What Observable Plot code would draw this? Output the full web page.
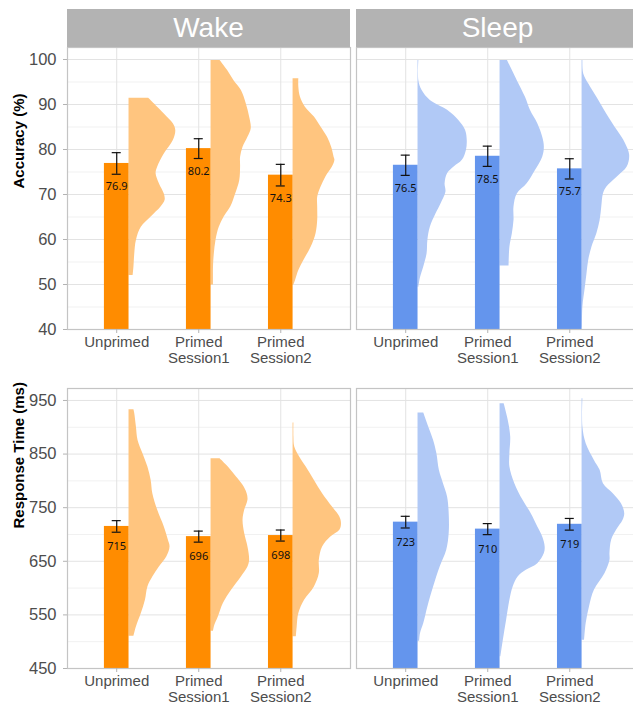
<!DOCTYPE html>
<html><head><meta charset="utf-8">
<script src="https://cdn.jsdelivr.net/npm/d3@7"></script>
<script src="https://cdn.jsdelivr.net/npm/@observablehq/plot@0.6"></script>
<style>
html,body{margin:0;padding:0;background:#fff;}
#chart{position:relative;width:633px;height:707px;overflow:hidden;font-family:"Liberation Sans",Arial,sans-serif;}
.strip{position:absolute;top:9px;height:38px;width:283px;background:#b3b3b3;color:#fff;font-size:28px;line-height:38px;text-align:center;z-index:2;}
.panel{position:absolute;}
.panel svg{background:transparent;max-width:none !important;}
</style></head><body><div id="chart"></div>
<script>
const conditions = ["Wake", "Sleep"];
const categories = ["Unprimed", "Primed\nSession1", "Primed\nSession2"];

const wakeAccMean = [76.9, 80.2, 74.3];
const wakeAccSE = [2.4, 2.2, 2.4];
const sleepAccMean = [76.5, 78.5, 75.7];
const sleepAccSE = [2.25, 2.25, 2.25];
const wakeRtMean = [715, 696, 698];
const wakeRtSE = [10.8, 10.3, 10.3];
const sleepRtMean = [723, 710, 719];
const sleepRtSE = [10.9, 10.3, 10.9];

const accTicks = [40, 50, 60, 70, 80, 90, 100];
const accMinor = [45, 55, 65, 75, 85, 95];
const rtTicks = [450, 550, 650, 750, 850, 950];
const rtMinor = [500, 600, 700, 800, 900];

// half-violin profiles: [value, width in category units]
const wakeAccUnprimed = [[91.4,0.24],[87.9,0.43],[85.7,0.54],[84.2,0.57],[82.0,0.54],[79.0,0.43],[76.1,0.35],[74.6,0.33],[72.4,0.37],[70.1,0.43],[68.7,0.44],[67.2,0.39],[65.0,0.27],[62.7,0.15],[59.8,0.09],[56.8,0.07],[53.9,0.06],[52.0,0.05]];
const wakeAccSession1 = [[99.8,0.11],[97.6,0.20],[95.3,0.28],[93.1,0.37],[90.1,0.43],[87.2,0.47],[84.6,0.49],[82.7,0.45],[80.5,0.39],[78.3,0.36],[76.1,0.36],[73.1,0.35],[70.1,0.30],[67.2,0.24],[65.0,0.16],[62.7,0.10],[59.8,0.06],[56.8,0.04],[53.9,0.03],[49.9,0.03]];
const wakeAccSession2 = [[95.7,0.07],[93.9,0.07],[91.6,0.09],[89.4,0.15],[87.2,0.26],[85.0,0.34],[82.7,0.42],[80.5,0.47],[78.3,0.50],[77.6,0.51],[76.1,0.48],[73.9,0.40],[71.6,0.34],[69.4,0.30],[67.2,0.30],[64.2,0.30],[61.3,0.28],[58.3,0.22],[55.3,0.13],[53.1,0.07],[50.9,0.03],[49.9,0.01]];
const sleepAccUnprimed = [[99.8,0.01],[95.3,0.01],[93.1,0.05],[90.9,0.15],[88.7,0.36],[86.4,0.50],[84.2,0.58],[82.0,0.60],[79.8,0.59],[77.6,0.54],[76.1,0.44],[74.6,0.36],[72.4,0.33],[70.5,0.34],[67.9,0.28],[65.7,0.22],[62.7,0.15],[59.8,0.12],[56.8,0.11],[53.9,0.07],[51.5,0.03],[49.4,0.01]];
const sleepAccSession1 = [[99.8,0.09],[95.3,0.21],[91.6,0.31],[88.7,0.37],[85.7,0.46],[82.7,0.52],[80.5,0.54],[78.3,0.52],[75.3,0.43],[72.4,0.33],[70.1,0.21],[67.2,0.17],[64.2,0.17],[61.3,0.15],[58.3,0.12],[54.1,0.11]];
const sleepAccSession2 = [[99.8,0.01],[96.8,0.02],[94.6,0.08],[91.6,0.18],[87.9,0.30],[84.2,0.43],[81.3,0.53],[78.7,0.58],[76.1,0.55],[73.9,0.43],[71.6,0.30],[70.1,0.26],[67.2,0.24],[64.2,0.22],[61.3,0.18],[58.3,0.12],[55.3,0.08],[52.4,0.06],[49.4,0.04],[45.0,0.01],[40.5,0.004]];
const wakeRtUnprimed = [[932.6,0.06],[925.2,0.07],[900.3,0.09],[875.5,0.11],[850.6,0.17],[825.8,0.23],[800.9,0.27],[776.1,0.29],[745.0,0.35],[714.0,0.43],[689.1,0.48],[676.7,0.50],[658.1,0.46],[639.4,0.37],[620.8,0.29],[602.2,0.23],[577.3,0.20],[552.5,0.15],[527.6,0.09],[510.3,0.06]];
const wakeRtSession1 = [[841.3,0.11],[825.8,0.21],[807.1,0.31],[791.6,0.39],[776.1,0.44],[763.7,0.45],[745.0,0.41],[726.4,0.39],[701.6,0.41],[676.7,0.45],[651.9,0.47],[639.4,0.45],[620.8,0.37],[595.9,0.25],[571.1,0.15],[546.3,0.09],[527.6,0.04],[519.6,0.03]];
const wakeRtSession2 = [[907.8,0.01],[881.7,0.01],[863.0,0.02],[844.4,0.08],[825.8,0.16],[800.9,0.26],[776.1,0.36],[751.2,0.48],[732.6,0.57],[720.2,0.59],[707.8,0.57],[695.3,0.46],[676.7,0.36],[651.9,0.32],[627.0,0.32],[602.2,0.26],[577.3,0.14],[552.5,0.07],[527.6,0.05],[509.0,0.04]];
const sleepRtUnprimed = [[926.4,0.07],[900.3,0.13],[875.5,0.19],[850.6,0.23],[819.6,0.26],[794.7,0.31],[769.9,0.36],[738.8,0.38],[701.6,0.38],[670.5,0.35],[639.4,0.27],[602.2,0.19],[564.9,0.12],[533.9,0.07],[515.0,0.03],[501.0,0.02]];
const sleepRtSession1 = [[943.8,0.05],[912.7,0.10],[881.7,0.13],[850.6,0.12],[825.8,0.12],[794.7,0.18],[763.7,0.28],[738.8,0.38],[714.0,0.46],[695.3,0.52],[676.7,0.55],[664.3,0.54],[645.6,0.46],[633.2,0.32],[620.8,0.22],[602.2,0.16],[577.3,0.12],[540.1,0.08],[502.8,0.04],[471.8,0.01]];
const sleepRtSession2 = [[953.1,0.01],[900.3,0.01],[869.3,0.05],[838.2,0.15],[819.6,0.22],[794.7,0.26],[776.1,0.38],[757.5,0.48],[738.8,0.52],[726.4,0.50],[707.8,0.42],[689.1,0.36],[664.3,0.34],[651.9,0.34],[627.0,0.28],[595.9,0.15],[564.9,0.09],[533.9,0.05],[502.7,0.03]];

const orange = "#FF8C00", orangeLight = "#FFC57F";
const blue = "#6495ED", blueLight = "#B1C9F6";

const chart = document.getElementById("chart");

function panel(o) {
  const rows = o.means.map((m, i) => ({pos: i + 1, mean: m, se: o.ses[i], label: o.fmt(m)}));
  const vpts = o.violins.flatMap((pts, i) => pts.map(([v, w]) => ({pos: i + 1, v, w, g: i})));
  const base = o.domain[0];
  const bw = 0.15;
  const marks = [
    Plot.ruleY(o.minor, {stroke: "#f1f1f1", strokeWidth: 1}),
    Plot.ruleY(o.ticks, {stroke: "#e3e3e3", strokeWidth: 1}),
    Plot.ruleX([1, 2, 3], {stroke: "#e3e3e3", strokeWidth: 1}),
    Plot.areaX(vpts, {y: "v", x1: d => d.pos + bw, x2: d => d.pos + bw + d.w, z: "g", fill: o.vcolor, curve: "catmull-rom"}),
    Plot.rectY(rows, {x1: d => d.pos - bw, x2: d => d.pos + bw, y1: base, y2: "mean", fill: o.color}),
    Plot.ruleX(rows, {x: "pos", y1: d => d.mean - d.se, y2: d => d.mean + d.se, stroke: "#111", strokeWidth: 1.2}),
    Plot.ruleY(rows, {y: d => d.mean + d.se, x1: d => d.pos - 0.055, x2: d => d.pos + 0.055, stroke: "#111", strokeWidth: 1.2}),
    Plot.ruleY(rows, {y: d => d.mean - d.se, x1: d => d.pos - 0.055, x2: d => d.pos + 0.055, stroke: "#111", strokeWidth: 1.2}),
    Plot.text(rows, {x: "pos", y: "mean", text: "label", dy: o.labelDy, fontSize: 11, fill: "#111", fontFamily: "'Noto Sans', sans-serif"}),
    Plot.frame({stroke: "#c4c4c4", strokeWidth: 1.2}),
    Plot.axisX([1, 2, 3], {tickFormat: i => categories[i - 1], tickSize: 4, tickPadding: 2, fontSize: 15, fill: "#4d4d4d", stroke: "#b3b3b3", lineHeight: 1.08, label: null})
  ];
  if (o.showY) {
    marks.push(Plot.axisY(o.ticks, {tickSize: 4, tickPadding: 7, fontSize: 16.5, fill: "#4d4d4d", stroke: "#b3b3b3", label: null}));
    marks.push(Plot.text([o.title], {frameAnchor: "left", rotate: -90, dx: -48, fontSize: 15, fontWeight: "bold", fill: "#000"}));
  }
  const svg = Plot.plot({
    width: o.width, height: o.height,
    marginLeft: o.mL, marginRight: o.mR, marginTop: o.mT, marginBottom: o.mB,
    x: {domain: [0.4, 3.85], label: null},
    y: {domain: o.domain, label: null, axis: o.showY ? undefined : null},
    style: {fontFamily: "'Liberation Sans', Arial, sans-serif", background: "transparent", overflow: "visible", maxWidth: "none"},
    marks
  });
  svg.style.maxWidth = "none";
  svg.style.width = o.width + "px";
  svg.style.height = o.height + "px";
  const div = document.createElement("div");
  div.className = "panel";
  div.style.left = o.left + "px";
  div.style.top = o.top + "px";
  div.style.width = o.width + "px";
  div.style.height = o.height + "px";
  div.appendChild(svg);
  chart.appendChild(div);
}

const fmtAcc = v => v.toFixed(1);
const fmtRt = v => String(Math.round(v));
const accDomain = [40, 102.67];
const rtDomain = [450, 972.3];

panel({means: wakeAccMean, ses: wakeAccSE, violins: [wakeAccUnprimed, wakeAccSession1, wakeAccSession2], color: orange, vcolor: orangeLight,
  domain: accDomain, ticks: accTicks, minor: accMinor, left: 0, top: 40, width: 352, height: 330, mL: 67, mR: 2, mT: 7, mB: 41,
  showY: true, title: "Accuracy (%)", labelDy: 23, fmt: fmtAcc});
panel({means: sleepAccMean, ses: sleepAccSE, violins: [sleepAccUnprimed, sleepAccSession1, sleepAccSession2], color: blue, vcolor: blueLight,
  domain: accDomain, ticks: accTicks, minor: accMinor, left: 352, top: 40, width: 290, height: 330, mL: 4, mR: 3, mT: 7, mB: 41,
  showY: false, title: "", labelDy: 23, fmt: fmtAcc});
panel({means: wakeRtMean, ses: wakeRtSE, violins: [wakeRtUnprimed, wakeRtSession1, wakeRtSession2], color: orange, vcolor: orangeLight,
  domain: rtDomain, ticks: rtTicks, minor: rtMinor, left: 0, top: 375, width: 352, height: 332, mL: 67, mR: 2, mT: 13, mB: 39,
  showY: true, title: "Response Time (ms)", labelDy: 20, fmt: fmtRt});
panel({means: sleepRtMean, ses: sleepRtSE, violins: [sleepRtUnprimed, sleepRtSession1, sleepRtSession2], color: blue, vcolor: blueLight,
  domain: rtDomain, ticks: rtTicks, minor: rtMinor, left: 352, top: 375, width: 290, height: 332, mL: 4, mR: 3, mT: 13, mB: 39,
  showY: false, title: "", labelDy: 20, fmt: fmtRt});

conditions.forEach((c, i) => {
  const s = document.createElement("div");
  s.className = "strip";
  s.style.left = (i === 0 ? 67 : 356) + "px";
  s.textContent = c;
  chart.appendChild(s);
});
</script></body></html>
